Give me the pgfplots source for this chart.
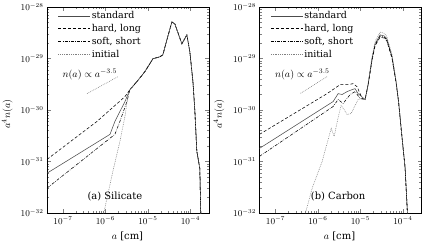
\documentclass[border=0pt]{standalone}
\usepackage{pgfplots}
\pgfplotsset{compat=1.18}
\usepackage{fontspec}
\setmainfont{DejaVu Serif}

% ---------- data: silicate ----------
\pgfplotstableread{
x y
4.20e-8 1.10e-31
6.31e-7 6.00e-31
2.88e-6 1.82e-30
3.77e-6 2.49e-30
5.51e-6 3.56e-30
8.49e-6 5.55e-30
1.31e-5 9.89e-30
1.91e-5 1.08e-29
2.25e-5 1.18e-29
2.80e-5 2.30e-29
3.67e-5 5.13e-29
4.32e-5 4.69e-29
6.31e-5 1.93e-29
8.28e-5 2.88e-29
9.73e-5 1.35e-29
1.15e-4 3.56e-30
1.28e-4 9.35e-31
1.42e-4 1.58e-31
1.67e-4 7.41e-32
1.77e-4 8.00e-33
}\silhard
\pgfplotstableread{
x y
4.20e-8 5.93e-32
1.28e-6 3.37e-31
1.67e-6 6.00e-31
2.88e-6 1.46e-30
3.77e-6 2.49e-30
5.51e-6 3.56e-30
8.49e-6 5.55e-30
1.31e-5 9.89e-30
1.91e-5 1.08e-29
2.25e-5 1.18e-29
2.80e-5 2.30e-29
3.67e-5 5.13e-29
4.32e-5 4.69e-29
6.31e-5 1.93e-29
8.28e-5 2.88e-29
9.73e-5 1.35e-29
1.15e-4 3.56e-30
1.28e-4 9.35e-31
1.42e-4 1.58e-31
1.67e-4 7.41e-32
1.77e-4 8.00e-33
}\silstd
\pgfplotstableread{
x y
4.20e-8 3.04e-32
1.67e-6 3.37e-31
2.19e-6 6.00e-31
3.21e-6 1.46e-30
3.77e-6 2.49e-30
5.51e-6 3.56e-30
8.49e-6 5.55e-30
1.31e-5 9.89e-30
1.91e-5 1.08e-29
2.25e-5 1.18e-29
2.80e-5 2.30e-29
3.67e-5 5.13e-29
4.32e-5 4.69e-29
6.31e-5 1.93e-29
8.28e-5 2.88e-29
9.73e-5 1.35e-29
1.15e-4 3.56e-30
1.28e-4 9.35e-31
1.42e-4 1.58e-31
1.67e-4 7.41e-32
1.77e-4 8.00e-33
}\silsoft
\pgfplotstableread{
x y
8.60e-7 8.00e-33
1.50e-6 6.49e-32
2.19e-6 2.46e-31
2.88e-6 7.48e-31
3.38e-6 1.82e-30
3.77e-6 2.49e-30
5.51e-6 3.56e-30
8.49e-6 5.55e-30
1.31e-5 9.89e-30
1.91e-5 1.08e-29
2.25e-5 1.18e-29
2.80e-5 2.30e-29
3.67e-5 5.13e-29
4.32e-5 4.69e-29
6.31e-5 1.93e-29
8.28e-5 2.88e-29
9.73e-5 1.35e-29
1.15e-4 3.56e-30
1.28e-4 9.35e-31
1.42e-4 1.58e-31
1.67e-4 7.41e-32
1.77e-4 8.00e-33
}\silinit

% ---------- data: carbon ----------
\pgfplotstableread{
x y
4.20e-8 3.37e-31
1.64e-6 2.08e-30
3.33e-6 3.11e-30
5.14e-6 3.11e-30
6.73e-6 3.25e-30
8.36e-6 2.84e-30
1.10e-5 1.67e-30
1.29e-5 1.60e-30
1.52e-5 3.11e-30
1.88e-5 9.30e-30
2.22e-5 1.76e-29
2.91e-5 2.60e-29
3.61e-5 2.50e-29
4.18e-5 2.22e-29
5.57e-5 1.00e-29
6.92e-5 3.40e-30
7.92e-5 1.46e-30
9.42e-5 3.32e-31
1.13e-4 7.50e-32
1.24e-4 1.71e-32
1.30e-4 8.00e-33
}\carhard
\pgfplotstableread{
x y
4.20e-8 1.80e-31
2.28e-6 1.46e-30
2.99e-6 2.08e-30
3.71e-6 2.00e-30
4.86e-6 2.28e-30
6.38e-6 2.49e-30
7.50e-6 2.60e-30
8.83e-6 2.08e-30
1.29e-5 1.60e-30
1.52e-5 3.11e-30
1.88e-5 9.89e-30
2.22e-5 1.93e-29
2.91e-5 2.88e-29
3.61e-5 2.75e-29
4.18e-5 2.44e-29
5.57e-5 1.08e-29
6.92e-5 3.56e-30
7.92e-5 1.46e-30
9.42e-5 3.32e-31
1.13e-4 7.50e-32
1.24e-4 1.71e-32
1.30e-4 8.00e-33
}\carstd
\pgfplotstableread{
x y
4.20e-8 1.26e-31
2.28e-6 1.17e-30
2.99e-6 1.60e-30
3.92e-6 1.34e-30
5.73e-6 2.00e-30
7.50e-6 2.28e-30
9.84e-6 1.67e-30
1.29e-5 1.60e-30
1.52e-5 3.11e-30
1.88e-5 9.60e-30
2.22e-5 1.85e-29
2.91e-5 2.74e-29
3.61e-5 2.62e-29
4.18e-5 2.33e-29
5.57e-5 1.04e-29
6.92e-5 3.50e-30
7.92e-5 1.46e-30
9.42e-5 3.32e-31
1.13e-4 7.50e-32
1.24e-4 1.71e-32
1.30e-4 8.00e-33
}\carsoft
\pgfplotstableread{
x y
4.73e-7 8.00e-33
7.31e-7 3.04e-32
1.26e-6 1.01e-31
1.74e-6 2.69e-31
2.05e-6 4.40e-31
2.41e-6 3.08e-31
2.99e-6 7.16e-31
3.51e-6 1.22e-30
4.13e-6 1.02e-30
4.86e-6 8.18e-31
6.04e-6 8.55e-31
7.50e-6 1.22e-30
8.83e-6 1.60e-30
1.10e-5 1.67e-30
1.29e-5 1.60e-30
1.52e-5 3.30e-30
1.88e-5 1.08e-29
2.22e-5 2.15e-29
2.91e-5 3.25e-29
3.61e-5 3.10e-29
4.18e-5 2.70e-29
5.57e-5 1.18e-29
6.92e-5 3.70e-30
7.92e-5 1.50e-30
9.42e-5 3.32e-31
1.13e-4 7.50e-32
1.24e-4 1.71e-32
1.30e-4 8.00e-33
}\carinit

\tikzset{
  stdline/.style={black!70, line width=0.55pt},
  hardline/.style={black, line width=0.55pt, dash pattern=on 3bp off 2bp},
  softline/.style={black, line width=0.55pt, dash pattern=on 3bp off 1.3bp on 0.6bp off 1.3bp},
  initline/.style={black!50, line width=0.55pt, dash pattern=on 0.8bp off 1bp},
}

\begin{document}
\begin{tikzpicture}
\useasboundingbox (0bp,0bp) rectangle (423bp,243bp);

\begin{axis}[at={(47bp,30bp)}, anchor=south west,
    xmode=log, ymode=log,
    scale only axis,
    width=162bp, height=206bp,
    xmin=4.2e-8, xmax=2.75e-4,
    ymin=1e-32, ymax=1e-28,
    xtick={1e-7,1e-6,1e-5,1e-4},
    ytick={1e-32,1e-31,1e-30,1e-29,1e-28},
    tick align=inside,
    tick pos=both,
    major tick length=4bp,
    minor tick length=2.3bp,
    axis line style={line width=0.6pt},
    tick label style={font=\fontsize{9}{10}\selectfont},
    xlabel={$a$ [cm]},
    ylabel={$a^4n(a)$},
    label style={font=\fontsize{10}{12}\selectfont},
    ylabel style={at={(axis description cs:-0.245,0.48)}, anchor=center},
    xlabel style={at={(axis description cs:0.497,-0.115)}, anchor=center},
    legend cell align=left,
    legend image code/.code={\draw[#1] (0bp,0bp) -- (32bp,0bp);},
    legend style={draw=none, fill=none,
      at={(axis description cs:0.068,0.985)}, anchor=north west,
      font=\fontsize{9.5}{11}\selectfont,
      inner xsep=0pt, inner ysep=0pt, row sep=2bp,
      nodes={inner sep=1pt, text height=7pt, text depth=2pt}},
]
\addplot[stdline] table {\silstd};
\addlegendentry{standard}
\addplot[hardline] table {\silhard};
\addlegendentry{hard, long}
\addplot[softline] table {\silsoft};
\addlegendentry{soft, short}
\addplot[initline] table {\silinit};
\addlegendentry{initial}
\addplot[initline, forget plot] coordinates {(3.67e-7,2.08e-30) (1.97e-6,4.44e-30)};
\node[font=\fontsize{10}{12}\selectfont] at (axis cs:4.31e-7,4.95e-30) {$n(a)\propto a^{-3.5}$};
\node[font=\fontsize{10}{12}\selectfont] at (axis cs:1.67e-6,2.13e-32) {(a) Silicate};
\end{axis}

\begin{axis}[at={(259.5bp,30bp)}, anchor=south west,
    xmode=log, ymode=log,
    scale only axis,
    width=162bp, height=206bp,
    xmin=4.2e-8, xmax=2.75e-4,
    ymin=1e-32, ymax=1e-28,
    xtick={1e-7,1e-6,1e-5,1e-4},
    ytick={1e-32,1e-31,1e-30,1e-29,1e-28},
    tick align=inside,
    tick pos=both,
    major tick length=4bp,
    minor tick length=2.3bp,
    axis line style={line width=0.6pt},
    tick label style={font=\fontsize{9}{10}\selectfont},
    xlabel={$a$ [cm]},
    ylabel={$a^4n(a)$},
    label style={font=\fontsize{10}{12}\selectfont},
    ylabel style={at={(axis description cs:-0.25,0.48)}, anchor=center},
    xlabel style={at={(axis description cs:0.494,-0.115)}, anchor=center},
    legend cell align=left,
    legend image code/.code={\draw[#1] (0bp,0bp) -- (32bp,0bp);},
    legend style={draw=none, fill=none,
      at={(axis description cs:0.068,0.985)}, anchor=north west,
      font=\fontsize{9.5}{11}\selectfont,
      inner xsep=0pt, inner ysep=0pt, row sep=2bp,
      nodes={inner sep=1pt, text height=7pt, text depth=2pt}},
]
\addplot[stdline] table {\carstd};
\addlegendentry{standard}
\addplot[hardline] table {\carhard};
\addlegendentry{hard, long}
\addplot[softline] table {\carsoft};
\addlegendentry{soft, short}
\addplot[initline] table {\carinit};
\addlegendentry{initial}
\addplot[initline, forget plot] coordinates {(3.87e-7,2.11e-30) (1.64e-6,4.44e-30)};
\node[font=\fontsize{10}{12}\selectfont] at (axis cs:4.31e-7,4.95e-30) {$n(a)\propto a^{-3.5}$};
\node[font=\fontsize{10}{12}\selectfont] at (axis cs:2.99e-6,2.13e-32) {(b) Carbon};
\end{axis}
\end{tikzpicture}
\end{document}
